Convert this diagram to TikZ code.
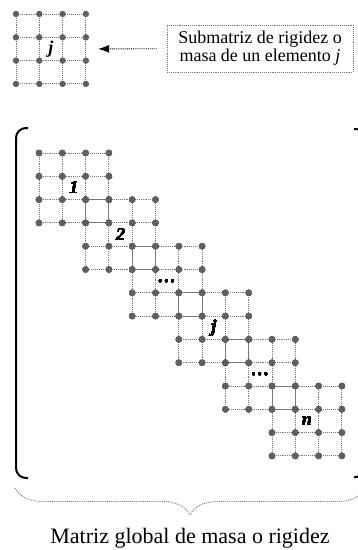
\documentclass[tikz,border=0pt]{standalone}
\usepackage{fontspec}
\setmainfont{Liberation Serif}
\usetikzlibrary{arrows.meta, decorations.pathreplacing}
\definecolor{dotgray}{RGB}{96,96,96}
\definecolor{linegray}{RGB}{120,120,120}
\tikzset{
  gridline/.style   = {linegray, densely dotted, line width=0.9pt},
  blocklabel/.style = {font=\fontsize{18}{18}\selectfont\bfseries\itshape, inner sep=0pt},
  infobox/.style    = {rectangle, draw=linegray, densely dotted, line width=0.9pt,
    minimum width=186pt, minimum height=47pt, align=center, inner sep=0pt,
    font=\fontsize{18}{18}\selectfont},
  arrow/.style      = {densely dotted, line width=0.9pt, -{Latex[length=11pt,width=8pt]}},
  bracket/.style    = {line width=2pt, rounded corners=10pt},
  underbrace/.style = {linegray, densely dotted, line width=0.9pt, decorate,
    decoration={brace, amplitude=27pt, mirror}},
}
\def\pitch{23.3}
% grid lines and dots of one element block, top left node at (#1,#2)
\newcommand{\elemlines}[2]{%
  \foreach \gi in {0,1,2,3} {
    \draw[gridline] (#1,#2+\gi*\pitch) -- (#1+3*\pitch,#2+\gi*\pitch);
    \draw[gridline] (#1+\gi*\pitch,#2) -- (#1+\gi*\pitch,#2+3*\pitch);
  }}
\newcommand{\elemdots}[2]{%
  \foreach \gi in {0,1,2,3}
    \foreach \gj in {0,1,2,3}
      \fill[dotgray] (#1+\gi*\pitch,#2+\gj*\pitch) circle (3.2pt);}

\begin{document}
\begin{tikzpicture}[x=1pt, y=-1pt]
  \useasboundingbox (0,0) rectangle (358,550);
  \clip (0,0) rectangle (358,550);

  % Element submatrix
  \node[minimum size=94pt, inner sep=0pt] (elem) at (51,49) {};
  \elemlines{16}{14}
  \elemdots{16}{14}
  \node[blocklabel] (labj) at (elem.center) {j};

  % Description box
  \node[infobox] (info) at (260,48.5) {Submatriz de rigidez o\\masa de un elemento \textit{j}};
  \draw[arrow, shorten <=10pt] (info) -- (elem);

  % Global matrix blocks
  \foreach \b in {0,...,5}
    \elemlines{39+2*\b*\pitch}{153+2*\b*\pitch}
  \foreach \b in {0,...,5}
    \elemdots{39+2*\b*\pitch}{153+2*\b*\pitch}
  \foreach \b/\lab in {0/1, 1/2, 2/\ldots, 3/j, 4/\ldots, 5/n}
    \node[blocklabel] (lab\b) at (39+1.5*\pitch+2*\b*\pitch, 153+1.5*\pitch+2*\b*\pitch) {\lab};

  % Brackets
  \draw[bracket] (28,128) -- (16,128) -- (16,478) -- (28,478);
  \draw[bracket] (354,129) -- (366,129) -- (366,477) -- (354,477);

  % Brace and caption
  \draw[underbrace] (15,488) -- (365,488);
  \node[anchor=base, font=\fontsize{22}{22}\selectfont] (global) at (190,543) {Matriz global de masa o rigidez};

\end{tikzpicture}
\end{document}
